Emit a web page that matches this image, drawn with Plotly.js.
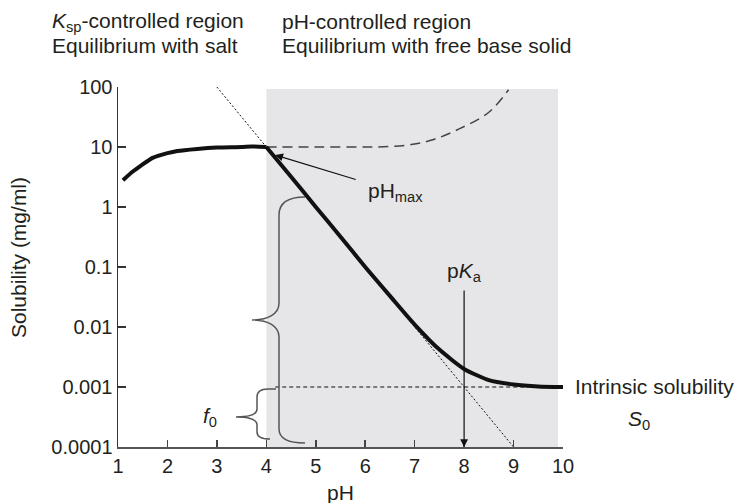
<!DOCTYPE html>
<html>
<head>
<meta charset="utf-8">
<script src="https://cdn.plot.ly/plotly-3.0.1.min.js"></script>
<style>html,body{margin:0;padding:0;background:#fff;}#chart{width:734px;height:503px;}</style>
</head>
<body>
<div id="chart"></div>
<script>
// ---- data ----
const saltPH   = [1.1, 1.3, 1.45, 1.7, 2.0, 2.2, 2.6, 3.0, 3.5, 3.7, 4.0];
const saltSol  = [2.8, 3.9, 4.8, 6.6, 7.9, 8.6, 9.3, 9.8, 10, 10.2, 10];
const basePH   = [4.0, 4.5, 5.0, 5.5, 6.0, 6.5, 7.0, 7.5, 8.0, 8.5, 9.0, 9.5, 10.0];
const baseSol  = [10, 3.2, 1.0, 0.32, 0.1, 0.033, 0.011, 0.0042, 0.002, 0.0013, 0.0011, 0.00102, 0.001];
const dashPH   = [4.0, 5.0, 6.0, 6.5, 7.0, 7.4, 7.9, 8.5, 8.9];
const dashSol  = [10, 10, 10, 10.2, 11.2, 13.5, 20, 38, 90];
const slopePH  = [3, 9];
const slopeSol = [100, 0.0001];
const s0PH     = [4.18, 9.3];
const s0Sol    = [0.001, 0.001];
const xTicks   = [1, 2, 3, 4, 5, 6, 7, 8, 9, 10];
const yTicks   = [0.0001, 0.001, 0.01, 0.1, 1, 10, 100];
const yTickText = ['0.0001', '0.001', '0.01', '0.1', '1', '10', '100'];

// ---- layout helpers (pixel -> paper) ----
const L = 118, R = 563, T = 87, B = 447;
const px = v => (v - L) / (R - L);
const py = v => (B - v) / (B - T);
const P = (x, y) => px(x).toFixed(4) + ',' + py(y).toFixed(4);
const FONT = 'Liberation Sans, Arial, Helvetica, sans-serif';
const TXT = '#231f20';

const traces = [
  {x: slopePH, y: slopeSol, mode: 'lines', line: {color: '#111', width: 1, dash: '2px,2px'}, hoverinfo: 'skip'},
  {x: s0PH, y: s0Sol, mode: 'lines', line: {color: '#111', width: 1, dash: '4px,3px'}, hoverinfo: 'skip'},
  {x: dashPH, y: dashSol, mode: 'lines', line: {color: '#444', width: 1.5, dash: '10px,6px', shape: 'spline'}, hoverinfo: 'skip'},
  {x: saltPH, y: saltSol, mode: 'lines', line: {color: '#111', width: 4, shape: 'spline', smoothing: 0.6}, hoverinfo: 'skip'},
  {x: basePH, y: baseSol, mode: 'lines', line: {color: '#111', width: 4, shape: 'spline', smoothing: 0.6}, hoverinfo: 'skip'}
];

const bigBrace = 'M ' + P(305,197) + ' C ' + P(290,197) + ' ' + P(279,202) + ' ' + P(279,215) +
  ' L ' + P(279,303) + ' C ' + P(279,314) + ' ' + P(268,320) + ' ' + P(252,320) +
  ' C ' + P(268,320) + ' ' + P(279,326) + ' ' + P(279,337) +
  ' L ' + P(279,429) + ' C ' + P(279,439) + ' ' + P(290,443) + ' ' + P(305,443);
const smallBrace = 'M ' + P(276,389) + ' L ' + P(268,389) + ' C ' + P(261,389) + ' ' + P(257,391) + ' ' + P(257,397) +
  ' L ' + P(257,409) + ' C ' + P(257,414) + ' ' + P(250,417) + ' ' + P(236,417) +
  ' C ' + P(250,417) + ' ' + P(257,420) + ' ' + P(257,425) +
  ' L ' + P(257,432) + ' C ' + P(257,437) + ' ' + P(261,439) + ' ' + P(270,439);

const shapes = [
  {type: 'rect', xref: 'x', yref: 'paper', x0: 4, x1: 9.9, y0: 0, y1: py(89), fillcolor: '#e6e6e8', line: {width: 0}, layer: 'below'},
  {type: 'path', xref: 'paper', yref: 'paper', path: bigBrace, line: {color: '#555', width: 1.5}},
  {type: 'path', xref: 'paper', yref: 'paper', path: smallBrace, line: {color: '#555', width: 1.5}}
];

const txt = (x, y, text, extra) => Object.assign({
  xref: 'paper', yref: 'paper', x: px(x), y: py(y), text: text, showarrow: false,
  xanchor: 'center', yanchor: 'middle', font: {family: FONT, size: 21, color: TXT}
}, extra || {});

const annotations = [
  txt(50, 22, '<i>K</i><sub>sp</sub>-controlled region', {xanchor: 'left'}),
  txt(50, 46, 'Equilibrium with salt', {xanchor: 'left'}),
  txt(280, 22, 'pH-controlled region', {xanchor: 'left'}),
  txt(280, 46, 'Equilibrium with free base solid', {xanchor: 'left'}),
  txt(395, 192, 'pH<sub>max</sub>'),
  txt(464, 272, 'p<i>K</i><sub>a</sub>'),
  txt(573, 386, 'Intrinsic solubility', {xanchor: 'left'}),
  txt(639, 420, '<i>S</i><sub>0</sub>'),
  txt(210, 417, '<i>f</i><sub>0</sub>'),
  txt(340, 492, 'pH'),
  txt(18, 258, 'Solubility (mg/ml)', {textangle: -90}),
  {xref: 'x', yref: 'y', x: 8, y: -4, ax: 0, ay: -158, text: '', showarrow: true,
   arrowhead: 2, arrowsize: 1.3, arrowwidth: 1.2, arrowcolor: '#111'},
  {xref: 'x', yref: 'y', x: 4.18, y: 0.867, ax: 82, ay: 25, text: '', showarrow: true,
   arrowhead: 2, arrowsize: 1.3, arrowwidth: 1.2, arrowcolor: '#111'}
];

const layout = {
  width: 734, height: 503,
  margin: {l: L, r: 734 - R, t: T, b: 503 - B, pad: 0},
  paper_bgcolor: '#fff', plot_bgcolor: 'rgba(0,0,0,0)',
  showlegend: false,
  font: {family: FONT, size: 20, color: TXT},
  xaxis: {range: [1, 10], tickvals: xTicks, ticks: 'inside', ticklen: 7, tickwidth: 1.5, tickcolor: '#444',
          showline: true, linecolor: '#555', linewidth: 2, showgrid: false, zeroline: false,
          tickfont: {family: FONT, size: 20, color: TXT}, fixedrange: true},
  yaxis: {type: 'log', range: [-4, 2], tickvals: yTicks, ticktext: yTickText, ticks: 'inside', ticklen: 8,
          tickwidth: 1.5, tickcolor: '#333', showline: true, linecolor: '#333', linewidth: 1.5,
          showgrid: false, zeroline: false, tickfont: {family: FONT, size: 20, color: TXT}, fixedrange: true},
  shapes: shapes,
  annotations: annotations
};

Plotly.newPlot('chart', traces, layout, {displayModeBar: false, staticPlot: true});
</script>
</body>
</html>
